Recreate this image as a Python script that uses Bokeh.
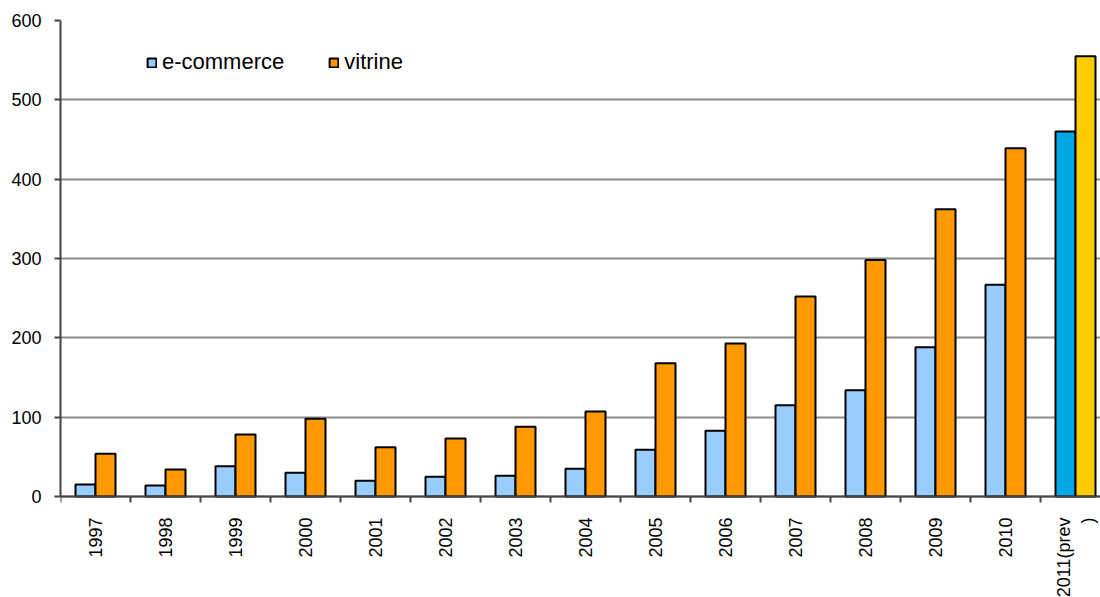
from bokeh.plotting import figure
from bokeh.models import (ColumnDataSource, Range1d, FixedTicker, Legend, LegendItem)
from bokeh.transform import dodge
from bokeh.embed import file_html
from bokeh.resources import INLINE
import math

years = ["1997", "1998", "1999", "2000", "2001", "2002", "2003", "2004",
         "2005", "2006", "2007", "2008", "2009", "2010", "2011(prev\n)"]
ecommerce = [15, 14, 38, 30, 20, 25, 26, 35, 59, 83, 115, 134, 188, 267, 460]
vitrine = [54, 34, 78, 98, 62, 73, 88, 107, 168, 193, 252, 298, 362, 439, 555]
y_ticks = [0, 100, 200, 300, 400, 500, 600]

centers = [i + 0.5 for i in range(len(years))]
boundaries = list(range(len(years) + 1))

main = ColumnDataSource(dict(x=centers[:-1], e=ecommerce[:-1], v=vitrine[:-1]))
prev = ColumnDataSource(dict(x=centers[-1:], e=ecommerce[-1:], v=vitrine[-1:]))

FONT = "Liberation Sans"
PX = 476 / 600          # pixels per unit on the value axis
BOTTOM_PX = 101         # room below the zero line, where the year labels sit
p = figure(width=1100, height=597, output_backend="svg", toolbar_location=None,
           x_range=Range1d(0, 1040 / 70),
           y_range=Range1d(-BOTTOM_PX / PX, 600),
           min_border_left=60, min_border_top=20, min_border_bottom=0,
           min_border_right=0)
p.outline_line_color = None
p.background_fill_color = "white"
p.border_fill_color = "white"

bw = 20 / 70
r_e = p.vbar(x=dodge("x", -bw / 2), top="e", width=bw, source=main,
             fill_color="#99CCFF", line_color="black", line_width=2)
r_v = p.vbar(x=dodge("x", bw / 2), top="v", width=bw, source=main,
             fill_color="#FF9900", line_color="black", line_width=2)
p.vbar(x=dodge("x", -bw / 2), top="e", width=bw, source=prev,
       fill_color="#00A8E8", line_color="black", line_width=2)
p.vbar(x=dodge("x", bw / 2), top="v", width=bw, source=prev,
       fill_color="#FFCC00", line_color="black", line_width=2)

# grid
p.xgrid.grid_line_color = None
p.ygrid.grid_line_color = "#8a8a8a"
p.ygrid.grid_line_width = 2
p.ygrid.ticker = FixedTicker(ticks=y_ticks)

# y axis
p.yaxis.ticker = FixedTicker(ticks=y_ticks)
p.yaxis.bounds = (0, 600)
p.yaxis.axis_line_color = "#444444"
p.yaxis.axis_line_width = 2
p.yaxis.major_tick_line_color = "#444444"
p.yaxis.major_tick_line_width = 2
p.yaxis.major_tick_out = 6
p.yaxis.major_tick_in = 0
p.yaxis.minor_tick_line_color = None
p.yaxis.major_label_text_font = FONT
p.yaxis.major_label_text_font_size = "18px"
p.yaxis.major_label_text_color = "black"
p.yaxis.major_label_standoff = 13

# x axis drawn at the zero line: ticks at category boundaries, labels at centers
p.xaxis.fixed_location = 0
p.xaxis.ticker = FixedTicker(ticks=centers, minor_ticks=boundaries)
p.xaxis.major_label_overrides = {c: y for c, y in zip(centers, years)}
p.xaxis.major_tick_line_color = None
p.xaxis.minor_tick_line_color = "#444444"
p.xaxis.minor_tick_line_width = 2
p.xaxis.minor_tick_out = 6
p.xaxis.minor_tick_in = 0
p.xaxis.axis_line_color = "#444444"
p.xaxis.axis_line_width = 2
p.xaxis.major_label_orientation = math.pi / 2
p.xaxis.major_label_text_font = FONT
p.xaxis.major_label_text_font_size = "18px"
p.xaxis.major_label_text_color = "black"
p.xaxis.major_label_standoff = 15

legend = Legend(items=[LegendItem(label="e-commerce", renderers=[r_e]),
                       LegendItem(label="vitrine", renderers=[r_v])],
                orientation="horizontal", location="top_left",
                glyph_width=11, glyph_height=11, label_standoff=5,
                label_text_font=FONT, label_text_font_size="22px",
                label_text_color="black", spacing=44, padding=0,
                margin=0, border_line_color=None, background_fill_alpha=0)
p.add_layout(legend)
legend.location = (86, 476 + BOTTOM_PX - 55)

open("out.html", "w").write(file_html(p, INLINE))
